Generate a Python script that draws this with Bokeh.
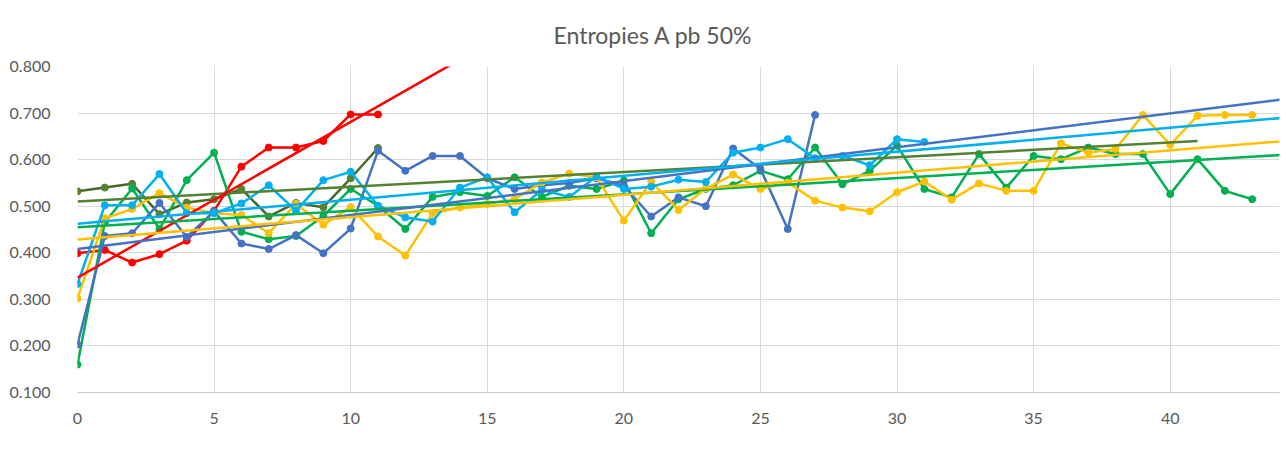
import numpy as np
from bokeh.plotting import figure
from bokeh.models import Range1d, Legend, LegendItem, FixedTicker, NumeralTickFormatter
from bokeh.embed import file_html
from bokeh.resources import INLINE

# ---------------- data ----------------
series_names = ["PGC", "YGC", "PG1", "PG2", "YG1", "YG2"]

PGC = [0.532, 0.540, 0.548, 0.483, 0.508, 0.515, 0.537, 0.478, 0.507, 0.498, 0.560, 0.625]
YGC = [0.399, 0.406, 0.379, 0.397, 0.426, 0.490, 0.585, 0.626, 0.626, 0.640, 0.697, 0.697]
PG1 = [0.160, 0.465, 0.538, 0.451, 0.556, 0.615, 0.445, 0.429, 0.436, 0.479, 0.537, 0.501,
       0.451, 0.520, 0.530, 0.522, 0.562, 0.520, 0.544, 0.537, 0.555, 0.442, 0.515, 0.537,
       0.545, 0.576, 0.558, 0.626, 0.547, 0.576, 0.630, 0.537, 0.519, 0.612, 0.540, 0.608,
       0.601, 0.626, 0.612, 0.612, 0.526, 0.601, 0.533, 0.515]
PG2 = [0.203, 0.436, 0.442, 0.507, 0.434, 0.489, 0.420, 0.408, 0.438, 0.399, 0.452, 0.619,
       0.576, 0.608, 0.608, 0.560, 0.537, 0.545, 0.550, 0.560, 0.544, 0.478, 0.519, 0.500,
       0.624, 0.580, 0.451, 0.696]
YG1 = [0.302, 0.474, 0.494, 0.528, 0.497, 0.485, 0.481, 0.442, 0.505, 0.460, 0.498, 0.435,
       0.394, 0.485, 0.497, 0.505, 0.515, 0.551, 0.570, 0.562, 0.469, 0.553, 0.492, 0.538,
       0.568, 0.537, 0.551, 0.512, 0.497, 0.489, 0.530, 0.553, 0.514, 0.549, 0.533, 0.533,
       0.635, 0.615, 0.623, 0.696, 0.632, 0.694, 0.696, 0.696]
YG2 = [0.333, 0.502, 0.502, 0.569, 0.485, 0.485, 0.506, 0.545, 0.490, 0.556, 0.574, 0.501,
       0.476, 0.467, 0.540, 0.562, 0.487, 0.535, 0.520, 0.564, 0.537, 0.542, 0.557, 0.552,
       0.615, 0.626, 0.644, 0.603, 0.608, 0.588, 0.644, 0.638]

series_values = [PGC, YGC, PG1, PG2, YG1, YG2]
line_colors = ["#466a2c", "#ff0000", "#00b050", "#4472c4", "#ffc000", "#00b0f0"]
marker_colors = ["#548235", "#ff0000", "#00b050", "#4472c4", "#ffc000", "#00b0f0"]
trend_colors = ["#548235", "#ff0000", "#00b050", "#4472c4", "#ffc000", "#00b0f0"]
forecast_forward = 30

x_ticks = [0, 5, 10, 15, 20, 25, 30, 35, 40]
y_ticks = [0.1, 0.2, 0.3, 0.4, 0.5, 0.6, 0.7, 0.8]

FONT = "Lato"
TXT = "#595959"
GRID = "#d9d9d9"

p = figure(frame_width=1202, frame_height=326,
           min_border_left=77, min_border_right=1, min_border_top=57, min_border_bottom=67,
           x_range=Range1d(0, 44), y_range=Range1d(0.1, 0.8),
           output_backend="svg", toolbar_location=None,
           title="Entropies A pb 50%")

p.title.align = "left"
p.title.offset = 476
p.title.text_font = FONT
p.title.text_font_size = "23px"
p.title.text_font_style = "normal"
p.title.text_color = TXT
p.title.standoff = 36

p.outline_line_color = None
p.background_fill_color = "white"
p.border_fill_color = "white"

p.xaxis.ticker = FixedTicker(ticks=x_ticks)
p.yaxis.ticker = FixedTicker(ticks=y_ticks)
p.yaxis.formatter = NumeralTickFormatter(format="0.000")
for ax in (p.xaxis, p.yaxis):
    ax.major_tick_line_color = None
    ax.minor_tick_line_color = None
    ax.major_label_text_font = FONT
    ax.major_label_text_font_size = "16px"
    ax.major_label_text_color = TXT
p.yaxis.axis_line_color = None
p.xaxis.axis_line_color = "#c8c8c8"
p.yaxis.major_label_standoff = 21
p.xaxis.major_label_standoff = 14

p.xgrid.grid_line_color = GRID
p.ygrid.grid_line_color = GRID
p.xgrid.ticker = FixedTicker(ticks=x_ticks)
p.ygrid.ticker = FixedTicker(ticks=y_ticks)

items = []
for name, vals, lc, mc in zip(series_names, series_values, line_colors, marker_colors):
    xs = list(range(len(vals)))
    lr = p.line(xs, vals, line_color=lc, line_width=2.5)
    sr = p.scatter(xs, vals, marker="circle", size=7, fill_color=mc, line_color=mc)
    items.append(LegendItem(label=name, renderers=[lr, sr]))

for vals, tc in zip(series_values, trend_colors):
    xs = np.arange(len(vals))
    slope, icpt = np.polyfit(xs, np.array(vals), 1)
    xe = np.array([0.0, len(vals) - 1 + forecast_forward])
    p.line(xe, icpt + slope * xe, line_color=tc, line_width=2.5)

legend = Legend(items=items, orientation="horizontal", location=(315, 0))
legend.border_line_color = None
legend.background_fill_alpha = 0
legend.label_text_font = FONT
legend.label_text_font_size = "15px"
legend.label_text_color = TXT
legend.glyph_width = 36
legend.glyph_height = 16
legend.label_standoff = 3
legend.spacing = 22
legend.padding = 0
legend.margin = 0
p.add_layout(legend, "below")

open("out.html", "w").write(file_html(p, INLINE))
